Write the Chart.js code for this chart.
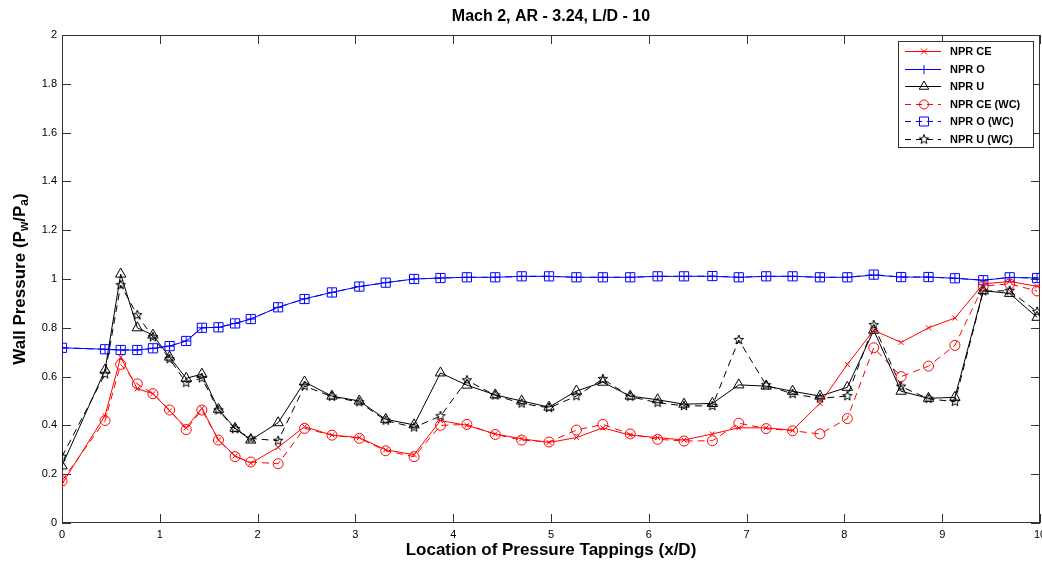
<!DOCTYPE html>
<html>
<head>
<meta charset="utf-8">
<title>Mach 2, AR - 3.24, L/D - 10</title>
<script src="https://cdn.jsdelivr.net/npm/chart.js@4.4.0/dist/chart.umd.min.js"></script>
<style>
  html, body { margin: 0; padding: 0; background: #fff; }
  #wrap { width: 1042px; height: 563px; }
</style>
</head>
<body>
<div id="wrap"><canvas id="chart" width="1042" height="563"></canvas></div>
<script>
// Tapping locations (x/D)
const xD = [0, 0.44, 0.60, 0.77, 0.93, 1.10, 1.27, 1.43, 1.60, 1.77,
            1.93, 2.21, 2.48, 2.76, 3.04, 3.31, 3.60, 3.87, 4.14, 4.43,
            4.70, 4.98, 5.26, 5.53, 5.81, 6.09, 6.36, 6.65, 6.92, 7.20,
            7.47, 7.75, 8.03, 8.30, 8.58, 8.86, 9.13, 9.42, 9.69, 9.97];

// Wall pressure ratios Pw/Pa
const nprCE   = [0.16, 0.44, 0.68, 0.55, 0.53, 0.46, 0.39, 0.47, 0.34, 0.275,
                 0.245, 0.31, 0.395, 0.36, 0.35, 0.30, 0.28, 0.42, 0.40, 0.365,
                 0.345, 0.33, 0.35, 0.39, 0.36, 0.35, 0.34, 0.365, 0.39, 0.39,
                 0.38, 0.49, 0.65, 0.79, 0.74, 0.80, 0.84, 0.98, 0.99, 0.97];
const nprO    = [0.718, 0.712, 0.709, 0.709, 0.716, 0.725, 0.746, 0.800, 0.802, 0.818,
                 0.836, 0.884, 0.919, 0.945, 0.969, 0.985, 1.000, 1.004, 1.007, 1.007,
                 1.011, 1.011, 1.007, 1.007, 1.007, 1.011, 1.011, 1.011, 1.007, 1.011,
                 1.011, 1.007, 1.007, 1.016, 1.008, 1.008, 1.003, 0.995, 1.006, 1.004];
const nprU    = [0.234, 0.627, 1.02, 0.80, 0.77, 0.68, 0.593, 0.61, 0.466, 0.388,
                 0.34, 0.411, 0.578, 0.52, 0.50, 0.425, 0.402, 0.615, 0.565, 0.525,
                 0.50, 0.475, 0.541, 0.577, 0.52, 0.505, 0.487, 0.49, 0.566, 0.561,
                 0.54, 0.52, 0.556, 0.79, 0.54, 0.511, 0.515, 0.952, 0.941, 0.843];
const nprCEWC = [0.173, 0.42, 0.65, 0.57, 0.53, 0.463, 0.383, 0.463, 0.34, 0.272,
                 0.25, 0.243, 0.388, 0.36, 0.347, 0.296, 0.272, 0.40, 0.404, 0.363,
                 0.34, 0.332, 0.381, 0.404, 0.365, 0.343, 0.336, 0.337, 0.409, 0.387,
                 0.378, 0.365, 0.428, 0.718, 0.60, 0.643, 0.728, 0.971, 0.98, 0.951];
const nprOWC  = [0.718, 0.712, 0.709, 0.709, 0.716, 0.725, 0.746, 0.800, 0.802, 0.818,
                 0.836, 0.884, 0.918, 0.945, 0.969, 0.985, 1.000, 1.004, 1.007, 1.007,
                 1.011, 1.011, 1.007, 1.007, 1.007, 1.011, 1.011, 1.012, 1.007, 1.011,
                 1.011, 1.007, 1.007, 1.018, 1.008, 1.008, 1.003, 0.995, 1.007, 1.004];
const nprUWC  = [0.272, 0.61, 0.975, 0.852, 0.762, 0.672, 0.575, 0.594, 0.462, 0.385,
                 0.347, 0.337, 0.561, 0.518, 0.495, 0.42, 0.392, 0.438, 0.585, 0.523,
                 0.49, 0.472, 0.52, 0.59, 0.518, 0.493, 0.48, 0.48, 0.75, 0.565,
                 0.529, 0.511, 0.52, 0.811, 0.559, 0.509, 0.497, 0.95, 0.952, 0.866];

const TITLE = 'Mach 2, AR - 3.24, L/D - 10';
const FONT = "Arial, 'Liberation Sans', Helvetica, sans-serif";
const RED = '#ff0000', BLUE = '#0000ff', BLACK = '#000000';
const DASH = [7, 5];

// pentagram marker (matlab 'p')
function makeStar(r, color) {
    const s = Math.ceil(r * 2 + 2);
    const c = document.createElement('canvas');
    c.width = s; c.height = s;
    const g = c.getContext('2d');
    g.strokeStyle = color;
    g.lineWidth = 1;
    g.beginPath();
    for (let i = 0; i < 10; i++) {
        const a = -Math.PI / 2 + i * Math.PI / 5;
        const rr = i % 2 === 0 ? r : r * 0.42;
        const px = s / 2 + Math.cos(a) * rr, py = s / 2 + Math.sin(a) * rr;
        if (i === 0) g.moveTo(px, py); else g.lineTo(px, py);
    }
    g.closePath();
    g.stroke();
    return c;
}
const starImg = makeStar(5, BLACK);

function pts(ys) {
    return xD.map((x, i) => ({x: x, y: ys[i]}));
}

function series(label, ys, color, dashed, style, radius) {
    return {
        label: label,
        data: pts(ys),
        showLine: true,
        borderColor: color,
        borderWidth: 1,
        borderDash: dashed ? DASH : [],
        backgroundColor: 'rgba(0,0,0,0)',
        pointStyle: style,
        pointRadius: radius,
        pointBorderColor: color,
        pointBorderWidth: 1,
        pointBackgroundColor: 'rgba(0,0,0,0)',
        tension: 0
    };
}

// draw a marker for the legend
function drawMarker(ctx, style, color, x, y, r) {
    if (style instanceof HTMLCanvasElement) {
        ctx.drawImage(style, x - style.width / 2, y - style.height / 2);
        return;
    }
    ctx.save();
    ctx.strokeStyle = color;
    ctx.lineWidth = 1;
    ctx.setLineDash([]);
    ctx.beginPath();
    if (style === 'crossRot') {
        ctx.moveTo(x - r, y - r); ctx.lineTo(x + r, y + r);
        ctx.moveTo(x - r, y + r); ctx.lineTo(x + r, y - r);
    } else if (style === 'cross') {
        ctx.moveTo(x - r, y); ctx.lineTo(x + r, y);
        ctx.moveTo(x, y - r); ctx.lineTo(x, y + r);
    } else if (style === 'triangle') {
        for (let i = 0; i < 3; i++) {
            const a = -Math.PI / 2 + i * 2 * Math.PI / 3;
            const px = x + Math.cos(a) * r, py = y + Math.sin(a) * r;
            if (i === 0) ctx.moveTo(px, py); else ctx.lineTo(px, py);
        }
        ctx.closePath();
    } else if (style === 'circle') {
        ctx.arc(x, y, r, 0, Math.PI * 2);
    } else if (style === 'rect') {
        ctx.rect(x - r, y - r, r * 2, r * 2);
    }
    ctx.stroke();
    ctx.restore();
}

const framePlugin = {
    id: 'frame',
    beforeDatasetsDraw(chart) {
        const {ctx, chartArea: a, scales} = chart;
        ctx.save();
        ctx.strokeStyle = '#333';
        ctx.lineWidth = 1;
        ctx.strokeRect(a.left + 0.5, a.top + 0.5, a.right - a.left - 1, a.bottom - a.top - 1);
        ctx.beginPath();
        const tl = 9;
        scales.x.ticks.forEach(t => {
            const px = Math.round(scales.x.getPixelForValue(t.value)) + 0.5;
            ctx.moveTo(px, a.bottom); ctx.lineTo(px, a.bottom - tl);
            ctx.moveTo(px, a.top); ctx.lineTo(px, a.top + tl);
        });
        scales.y.ticks.forEach(t => {
            const py = Math.round(scales.y.getPixelForValue(t.value)) + 0.5;
            ctx.moveTo(a.left, py); ctx.lineTo(a.left + tl, py);
            ctx.moveTo(a.right, py); ctx.lineTo(a.right - tl, py);
        });
        ctx.stroke();
        ctx.restore();
    },
    afterDraw(chart) {
        const {ctx, chartArea: a} = chart;

        // title, centred over the axes
        ctx.save();
        ctx.font = 'bold 16px ' + FONT;
        ctx.fillStyle = '#000';
        ctx.textAlign = 'center';
        ctx.textBaseline = 'middle';
        ctx.fillText(TITLE, (a.left + a.right) / 2, 17);
        ctx.restore();

        // y axis title with subscripts
        const parts = [['Wall Pressure (P', false], ['w', true], ['/P', false], ['a', true], [')', false]];
        const big = 'bold 17px ' + FONT, small = 'bold 12px ' + FONT;
        ctx.save();
        let total = 0;
        parts.forEach(p => { ctx.font = p[1] ? small : big; total += ctx.measureText(p[0]).width; });
        ctx.translate(20, (a.top + a.bottom) / 2);
        ctx.rotate(-Math.PI / 2);
        ctx.fillStyle = '#000';
        ctx.textBaseline = 'middle';
        ctx.textAlign = 'left';
        let cx = -total / 2;
        parts.forEach(p => {
            ctx.font = p[1] ? small : big;
            ctx.fillText(p[0], cx, p[1] ? 5 : 0);
            cx += ctx.measureText(p[0]).width;
        });
        ctx.restore();

        // legend box
        const lx = 898, ly = 41, lw = 135, lh = 106;
        ctx.save();
        ctx.fillStyle = '#fff';
        ctx.fillRect(lx, ly, lw, lh);
        ctx.strokeStyle = '#333';
        ctx.lineWidth = 1;
        ctx.strokeRect(lx + 0.5, ly + 0.5, lw, lh);
        ctx.font = 'bold 11px ' + FONT;
        ctx.textBaseline = 'middle';
        ctx.fillStyle = '#000';
        const radii = {crossRot: 3, cross: 4.5, triangle: 5.5, circle: 4.5, rect: 4.5};
        chart.data.datasets.forEach((ds, i) => {
            const ry = Math.round(ly + 10 + i * 17.6) + 0.5;
            ctx.save();
            ctx.strokeStyle = ds.borderColor;
            ctx.lineWidth = 1;
            ctx.setLineDash(ds.borderDash.length ? [6, 5] : []);
            ctx.beginPath();
            ctx.moveTo(905, ry);
            ctx.lineTo(941, ry);
            ctx.stroke();
            ctx.restore();
            drawMarker(ctx, ds.pointStyle, ds.borderColor, 924, ry, radii[ds.pointStyle] || 5);
            ctx.fillText(ds.label, 950, ry);
        });
        ctx.restore();
    }
};

const ctx = document.getElementById('chart').getContext('2d');
const chart = new Chart(ctx, {
    type: 'scatter',
    data: {
        datasets: [
            series('NPR CE', nprCE, RED, false, 'crossRot', 3.5),
            series('NPR O', nprO, BLUE, false, 'cross', 4.5),
            series('NPR U', nprU, BLACK, false, 'triangle', 6),
            series('NPR CE (WC)', nprCEWC, RED, true, 'circle', 5),
            series('NPR O (WC)', nprOWC, BLUE, true, 'rect', 6.5),
            series('NPR U (WC)', nprUWC, BLACK, true, starImg, 5)
        ]
    },
    options: {
        responsive: false,
        animation: false,
        events: [],
        layout: { autoPadding: false, padding: { left: 0, right: 2, top: 35, bottom: 0 } },
        plugins: {
            legend: { display: false },
            tooltip: { enabled: false },
            title: { display: false }
        },
        scales: {
            x: {
                type: 'linear',
                min: 0,
                max: 10,
                grid: { display: false, drawTicks: false },
                border: { display: false },
                ticks: { stepSize: 1, padding: 5, maxRotation: 0, color: '#000', font: { family: FONT, size: 11 } },
                title: {
                    display: true,
                    text: 'Location of Pressure Tappings (x/D)',
                    color: '#000',
                    font: { family: FONT, size: 17, weight: 'bold' },
                    padding: { top: 0, bottom: 2 }
                },
                afterFit(s) { s.height = 40; s.paddingLeft = 0; s.paddingRight = 0; }
            },
            y: {
                min: 0,
                max: 2,
                grid: { display: false, drawTicks: false },
                border: { display: false },
                ticks: {
                    stepSize: 0.2, padding: 5, color: '#000', font: { family: FONT, size: 11 },
                    callback: v => String(parseFloat(v.toFixed(1)))
                },
                afterFit(s) { s.width = 62; s.paddingTop = 0; s.paddingBottom = 0; }
            }
        }
    },
    plugins: [framePlugin]
});
</script>
</body>
</html>
